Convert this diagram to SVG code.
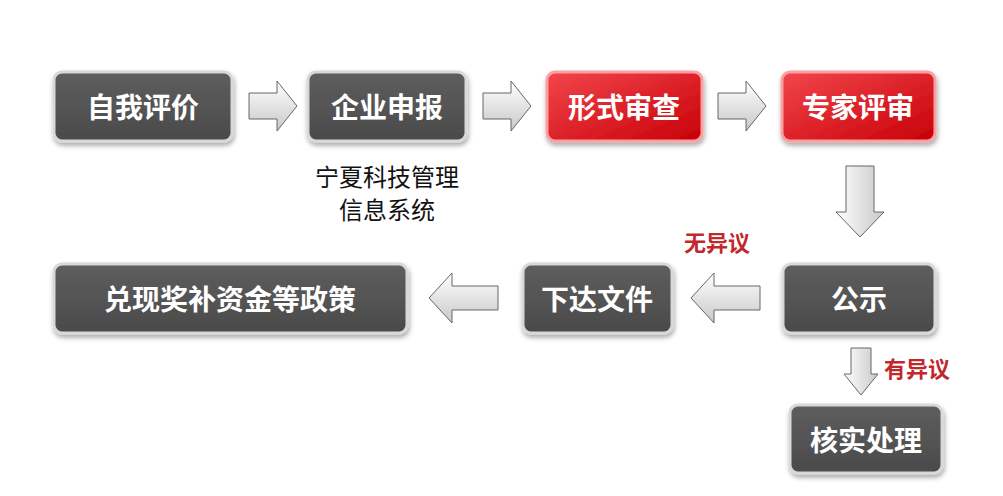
<svg xmlns="http://www.w3.org/2000/svg" width="1003" height="496" viewBox="0 0 1003 496">
<defs>
<linearGradient id="gd" x1="0" y1="0" x2="0" y2="1"><stop offset="0" stop-color="#5e5e5e"/><stop offset="1" stop-color="#4a4a4a"/></linearGradient>
<linearGradient id="rd" x1="0" y1="0" x2="1" y2="1"><stop offset="0" stop-color="#f2464b"/><stop offset="1" stop-color="#c80008"/></linearGradient>
<linearGradient id="ar" x1="0" y1="0" x2="0" y2="1"><stop offset="0" stop-color="#ffffff"/><stop offset="1" stop-color="#c8c8c8"/></linearGradient>
<linearGradient id="arv" x1="0" y1="0" x2="1" y2="0"><stop offset="0" stop-color="#ffffff"/><stop offset="1" stop-color="#c8c8c8"/></linearGradient>
<filter id="sh" x="-10%" y="-10%" width="120%" height="130%"><feDropShadow dx="1" dy="3" stdDeviation="2.5" flood-opacity="0.35"/></filter>
</defs>
<style>
.g{fill:url(#gd);stroke:#d8d8d8;stroke-width:3;filter:url(#sh)}
.r{fill:url(#rd);stroke:#f9a0a2;stroke-width:3;filter:url(#sh)}
.t{font-family:"Noto Sans CJK SC",sans-serif;font-weight:bold;font-size:28px;fill:#fff;text-anchor:middle;dominant-baseline:central}
.a{fill:url(#ar);stroke:#666;stroke-width:1}
.av{fill:url(#arv);stroke:#666;stroke-width:1}
.l{font-family:"Noto Sans CJK SC",sans-serif;font-weight:bold;font-size:22px;fill:#c0282c}
.s{font-family:"Noto Sans CJK SC",sans-serif;font-size:24px;fill:#111;text-anchor:middle}
</style>
<rect width="1003" height="496" fill="#fff"/>
<g id="n1"><rect class="g" x="54" y="72" width="178" height="69" rx="8"/><text class="t" x="143" y="106">自我评价</text></g>
<g id="n2"><rect class="g" x="308" y="72" width="158" height="69" rx="8"/><text class="t" x="387" y="106">企业申报</text></g>
<g id="n3"><rect class="r" x="547" y="72" width="155" height="69" rx="8"/><text class="t" x="624" y="106">形式审查</text></g>
<g id="n4"><rect class="r" x="782" y="72" width="153" height="69" rx="8"/><text class="t" x="858" y="106">专家评审</text></g>
<g id="n5"><rect class="g" x="783" y="264" width="152" height="69" rx="8"/><text class="t" x="859" y="298">公示</text></g>
<g id="n6"><rect class="g" x="523" y="264" width="149" height="69" rx="8"/><text class="t" x="597" y="298">下达文件</text></g>
<g id="n7"><rect class="g" x="54" y="264" width="353" height="69" rx="8"/><text class="t" x="230" y="298">兑现奖补资金等政策</text></g>
<g id="n8"><rect class="g" x="790" y="405" width="152" height="68" rx="8"/><text class="t" x="866" y="439">核实处理</text></g>
<g id="note"><text class="s" x="387" y="186">宁夏科技管理</text><text class="s" x="387" y="219">信息系统</text></g>
<g id="connectors">
<path class="a" d="M249,93 H277 V81 L297,106 L277,131 V119 H249 Z"/>
<path class="a" d="M483,93 H511 V81 L531,106 L511,131 V119 H483 Z"/>
<path class="a" d="M718,93 H746 V81 L766,106 L746,131 V119 H718 Z"/>
<path class="av" d="M846,166 V212 H836 L860,237 L884,212 H874 V166 Z"/>
<path class="a" d="M760,286 H714 V273 L691,298 L714,323 V310 H760 Z"/>
<path class="a" d="M498,286 H452 V273 L429,298 L452,323 V310 H498 Z"/>
<path class="av" d="M851,348 V374 H844 L861,395 L878,374 H871 V348 Z"/>
<text class="l" x="684" y="251">无异议</text>
<text class="l" x="884" y="377">有异议</text>
</g>
</svg>
